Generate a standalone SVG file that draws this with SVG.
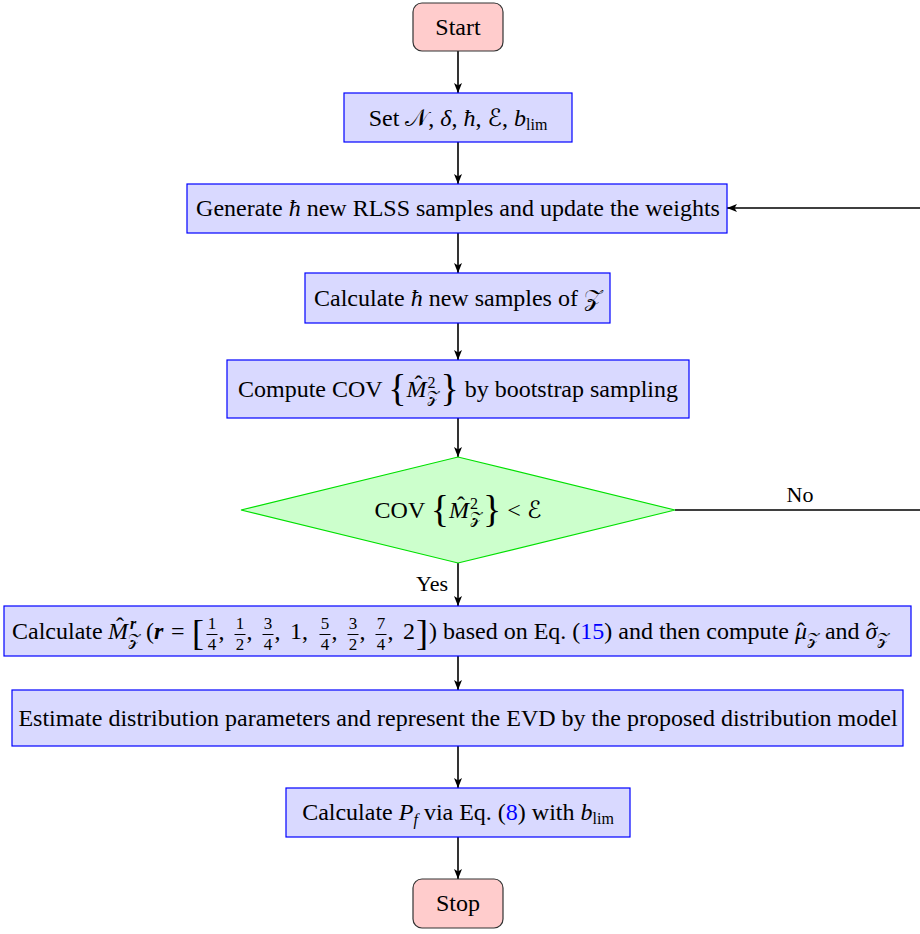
<svg xmlns="http://www.w3.org/2000/svg" width="920" height="934" viewBox="0 0 920 934">
<defs>
<style>
.t{font-family:"Liberation Serif","DejaVu Serif",serif;font-size:24px;fill:#000}
.i{font-style:italic}
.s{font-size:16px}
.fr{font-size:17px}
.bi{font-style:italic;font-weight:bold}
.cal{font-family:"DejaVu Serif","DejaVu Sans",serif;font-style:normal}
.lnk{fill:#0000ff}
.proc{fill:#d9d9ff;stroke:#0000ff;stroke-width:1.2}
.term{fill:#ffcccc;stroke:#333;stroke-width:1.2}
.dec{fill:#ccffcc;stroke:#00e000;stroke-width:1.2}
.con{fill:none;stroke:#000;stroke-width:1.6}
.bar{stroke:#000;stroke-width:1}
</style>
<marker id="ah" viewBox="0 0 10 8" refX="10" refY="4" markerWidth="10" markerHeight="8" markerUnits="userSpaceOnUse" orient="auto">
<path d="M0,0 L10,4 L0,8 L2.5,4 Z" fill="#000"/>
</marker>
</defs>
<rect width="920" height="934" fill="#fff"/>

<g id="connectors">
<path class="con" d="M458,51 V93" marker-end="url(#ah)"/>
<path class="con" d="M458,142 V184" marker-end="url(#ah)"/>
<path class="con" d="M458,233 V273" marker-end="url(#ah)"/>
<path class="con" d="M458,323 V360" marker-end="url(#ah)"/>
<path class="con" d="M458,418 V457" marker-end="url(#ah)"/>
<path class="con" d="M458,563 V606" marker-end="url(#ah)"/>
<path class="con" d="M458,656 V690" marker-end="url(#ah)"/>
<path class="con" d="M458,746 V788" marker-end="url(#ah)"/>
<path class="con" d="M458,837 V879" marker-end="url(#ah)"/>
<path class="con" d="M675,510 H922 V208 H727" marker-end="url(#ah)"/>
<text class="t" x="800" y="502" text-anchor="middle" style="font-size:22px">No</text>
<text class="t" x="432" y="591" text-anchor="middle" style="font-size:22px">Yes</text>
</g>

<g id="start">
<rect class="term" x="413" y="3" width="90" height="48" rx="9"/>
<text class="t" x="458" y="35" text-anchor="middle">Start</text>
</g>

<g id="set">
<rect class="proc" x="344" y="93" width="228" height="49"/>
<text class="t" x="458" y="126" text-anchor="middle">Set <tspan class="cal">𝒩</tspan>, <tspan class="i">δ</tspan>, <tspan class="i">ħ</tspan>, <tspan class="cal">ℰ</tspan>, <tspan class="i">b</tspan><tspan class="s" dy="4">lim</tspan></text>
</g>

<g id="generate">
<rect class="proc" x="187" y="184" width="540" height="49"/>
<text class="t" x="458" y="216" text-anchor="middle">Generate <tspan class="i">ħ</tspan> new RLSS samples and update the weights</text>
</g>

<g id="calc-samples">
<rect class="proc" x="305" y="273" width="305" height="50"/>
<text class="t" x="458" y="306" text-anchor="middle">Calculate <tspan class="i">ħ</tspan> new samples of <tspan class="cal">𝒵</tspan></text>
</g>

<g id="compute-cov">
<rect class="proc" x="227" y="360" width="462" height="58"/>
<text class="t" x="458" y="397" text-anchor="middle">Compute COV <tspan style="font-size:38px" dy="4">{</tspan><tspan class="i" dy="-4">M</tspan><tspan dx="-12" dy="-5">ˆ</tspan><tspan class="s" dx="5" dy="-4">2</tspan><tspan class="s cal" dx="-8" dy="14">𝒵</tspan><tspan style="font-size:38px" dx="1" dy="-1">}</tspan><tspan dy="-4"> by bootstrap sampling</tspan></text>
</g>

<g id="decision">
<polygon class="dec" points="241,510 458,457 675,510 458,563"/>
<text class="t" x="458" y="518" text-anchor="middle">COV <tspan style="font-size:38px" dy="4">{</tspan><tspan class="i" dy="-4">M</tspan><tspan dx="-12" dy="-5">ˆ</tspan><tspan class="s" dx="5" dy="-4">2</tspan><tspan class="s cal" dx="-8" dy="14">𝒵</tspan><tspan style="font-size:38px" dx="1" dy="-1">}</tspan><tspan dy="-4"> &lt; </tspan><tspan class="cal">ℰ</tspan></text>
</g>

<g id="calc-moments">
<rect class="proc" x="4" y="606" width="907" height="50"/>
<text class="t" x="12" y="639">Calculate</text>
<text class="t i" x="108" y="639">M</text>
<text class="t" x="116" y="634">ˆ</text>
<text class="t s bi" x="130" y="629">r</text>
<text class="t s cal" x="128" y="645">𝒵</text>
<text class="t" x="146" y="639">(</text>
<text class="t bi" x="154" y="639">r</text>
<text class="t" x="171" y="639">=</text>
<text class="t" x="192" y="645" style="font-size:36px">[</text>
<g class="t fr" text-anchor="middle">
<text x="212" y="629">1</text><text x="212" y="650">4</text>
<text x="240" y="629">1</text><text x="240" y="650">2</text>
<text x="268" y="629">3</text><text x="268" y="650">4</text>
<text x="325" y="629">5</text><text x="325" y="650">4</text>
<text x="353" y="629">3</text><text x="353" y="650">2</text>
<text x="381" y="629">7</text><text x="381" y="650">4</text>
</g>
<path class="bar" d="M206.5,634.5 H217.5 M234.5,634.5 H245.5 M262.5,634.5 H273.5 M319.5,634.5 H330.5 M347.5,634.5 H358.5 M375.5,634.5 H386.5"/>
<g class="t">
<text x="218.5" y="639">,</text><text x="246.5" y="639">,</text><text x="274.5" y="639">,</text>
<text x="290" y="639">1</text><text x="302" y="639">,</text>
<text x="331.5" y="639">,</text><text x="359.5" y="639">,</text><text x="387.5" y="639">,</text>
<text x="403" y="639">2</text>
</g>
<text class="t" x="416" y="645" style="font-size:36px">]</text>
<text class="t" x="429" y="639">)</text>
<text class="t" x="443" y="639">based on Eq. (<tspan class="lnk">15</tspan>) and then compute <tspan class="i">μ</tspan><tspan dx="-10">ˆ</tspan><tspan class="s cal" dx="2" dy="5">𝒵</tspan><tspan dy="-5"> and </tspan><tspan class="i">σ</tspan><tspan dx="-10">ˆ</tspan><tspan class="s cal" dx="2" dy="5">𝒵</tspan></text>
</g>

<g id="estimate">
<rect class="proc" x="12" y="690" width="891" height="56"/>
<text class="t" x="458" y="726" text-anchor="middle">Estimate distribution parameters and represent the EVD by the proposed distribution model</text>
</g>

<g id="pf">
<rect class="proc" x="286" y="788" width="344" height="49"/>
<text class="t" x="458" y="820" text-anchor="middle">Calculate <tspan class="i">P</tspan><tspan class="s i" dy="5">f</tspan><tspan dy="-5">  via Eq. (</tspan><tspan class="lnk">8</tspan>) with <tspan class="i">b</tspan><tspan class="s" dy="4">lim</tspan></text>
</g>

<g id="stop">
<rect class="term" x="413" y="879" width="90" height="49" rx="9"/>
<text class="t" x="458" y="911" text-anchor="middle">Stop</text>
</g>
</svg>
